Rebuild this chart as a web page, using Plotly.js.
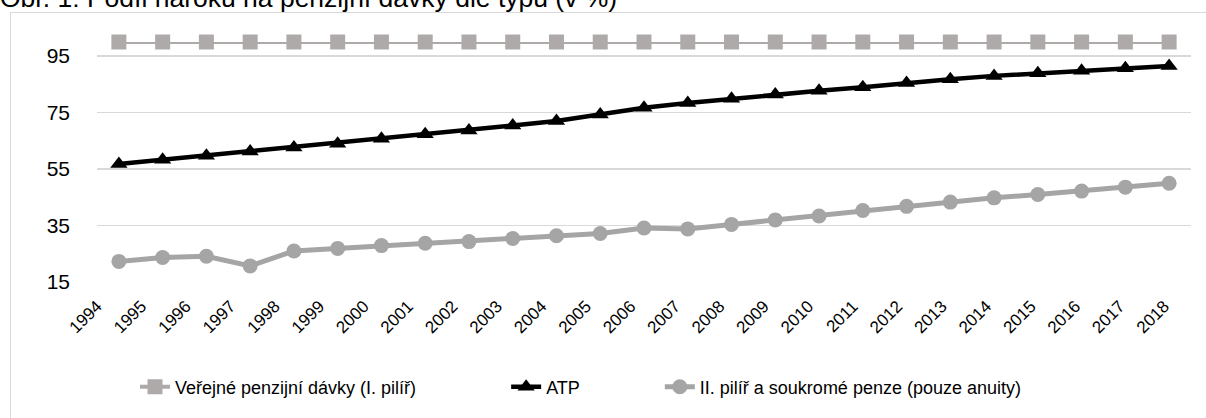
<!DOCTYPE html>
<html>
<head>
<meta charset="utf-8">
<script src="https://cdn.plot.ly/plotly-3.0.1.min.js"></script>
<style>
  html, body { margin: 0; padding: 0; background: #ffffff; overflow: hidden; }
  #frame { position: absolute; left: 10px; top: 12px; width: 1400px; height: 600px;
           border: 1px solid #d9d9d9; box-sizing: border-box; }
  #chart { position: absolute; left: 0; top: 0; width: 1206px; height: 418px; }
</style>
</head>
<body>
<div id="frame"></div>
<div id="chart"></div>
<script>
const years = ["1994","1995","1996","1997","1998","1999","2000","2001","2002","2003","2004","2005","2006","2007","2008","2009","2010","2011","2012","2013","2014","2015","2016","2017","2018"];
const verejne = [100,100,100,100,100,100,100,100,100,100,100,100,100,100,100,100,100,100,100,100,100,100,100,100,100];
const atp = [56.8,58.3,59.7,61.2,62.6,64.0,65.7,67.3,68.7,70.4,72.0,74.3,76.7,78.4,79.9,81.4,82.7,84.0,85.5,86.8,88.0,88.9,89.8,90.7,91.5];
const druhyPilir = [22.3,23.7,24.1,20.7,26.0,26.9,27.9,28.7,29.3,30.4,31.4,32.2,34.1,33.8,35.4,37.0,38.4,40.3,41.8,43.3,44.8,46.0,47.2,48.6,50.0];
const seriesNames = ["Veřejné penzijní dávky (I. pilíř)", "ATP", "II. pilíř a soukromé penze (pouze anuity)"];
const titleText = "Obr. 1: Podíl nároku na penzijní dávky dle typu (v %)";
const yTicks = [15,35,55,75,95];

const FONT = "'Liberation Sans', Arial, sans-serif";
const PAD = "\u00A0";

// geometry (pixels)
const W = 1206, H = 418;
const ML = 20, MR = 15;
const innerW = W - ML - MR;
const plotLeft = 97, plotRight = 1191;
const nCat = years.length;
// year-label axis: its own slightly wider spacing, starting left of the points
const lblOrigin = 97, lblStep = 44.47;
const lblLeft = lblOrigin - 1.5 * lblStep;
const lblRight = lblOrigin + (nCat - 0.5) * lblStep;

const labelVals = [-1].concat(years.map((_, i) => i));
const labelText = ["\u00A0\u00A0\u00A0\u00A0"].concat(years);

const traces = [
  { x: years, y: verejne, name: seriesNames[0] + PAD.repeat(17), type: "scatter", mode: "lines+markers",
    line: { color: "#aeaaaa", width: 4 },
    marker: { symbol: "square", size: 15, color: "#aeaaaa" }, cliponaxis: false },
  { x: years, y: atp, name: seriesNames[1] + PAD.repeat(15), type: "scatter", mode: "lines+markers",
    line: { color: "#000000", width: 4.5 },
    marker: { symbol: "triangle-up", size: 15, color: "#000000" }, cliponaxis: false },
  { x: years, y: druhyPilir, name: seriesNames[2], type: "scatter", mode: "lines+markers",
    line: { color: "#a5a5a5", width: 5 },
    marker: { symbol: "circle", size: 15, color: "#a5a5a5" }, cliponaxis: false },
  // empty carrier trace so the label axis (x2/y2) exists
  { x: [], y: [], xaxis: "x2", yaxis: "y2", type: "scatter", mode: "lines",
    showlegend: false, hoverinfo: "skip" }
];

const layout = {
  width: W, height: H,
  margin: { l: ML, r: MR, t: 42, b: 134 },
  paper_bgcolor: "rgba(0,0,0,0)",
  plot_bgcolor: "rgba(0,0,0,0)",
  title: { text: titleText, x: 0, xref: "container", xanchor: "left",
           y: 0.984, yref: "container", yanchor: "bottom",
           font: { family: FONT, size: 26.5, color: "#000000" } },
  xaxis: { type: "category", range: [-0.5, nCat - 0.5],
           domain: [(plotLeft - ML) / innerW, (plotRight - ML) / innerW], anchor: "y",
           showgrid: false, zeroline: false, showline: false, ticks: "",
           showticklabels: false, fixedrange: true },
  xaxis2: { type: "linear", range: [-1.5, nCat - 0.5],
            domain: [(lblLeft - ML) / innerW, (lblRight - ML) / innerW], anchor: "y2",
            tickmode: "array", tickvals: labelVals, ticktext: labelText,
            tickangle: -45, showgrid: false, zeroline: false, showline: false, ticks: "",
            ticklabelstandoff: 10, ticklabeloverflow: "allow",
            tickfont: { family: FONT, size: 17, color: "#000000" }, fixedrange: true },
  yaxis: { range: [15, 100], tickvals: yTicks, ticktext: yTicks.map(String), anchor: "x",
           showgrid: true, gridcolor: "#d9d9d9", gridwidth: 1.5,
           zeroline: false, showline: false, ticks: "", ticklabelstandoff: 26,
           tickfont: { family: FONT, size: 21, color: "#000000" }, fixedrange: true },
  yaxis2: { range: [15, 100], anchor: "x2", overlaying: "y", visible: false,
            showgrid: false, zeroline: false, fixedrange: true },
  showlegend: true,
  legend: { orientation: "h", x: (135 - ML) / innerW, xanchor: "left", y: -0.438, yanchor: "middle",
            font: { family: FONT, size: 18, color: "#000000" }, bgcolor: "rgba(0,0,0,0)" },
  hovermode: false
};

Plotly.newPlot("chart", traces, layout, { displayModeBar: false, staticPlot: true });
</script>
</body>
</html>
